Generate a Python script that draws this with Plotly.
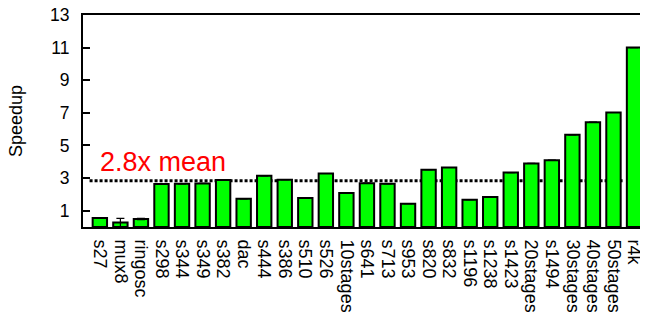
import plotly.graph_objects as go

categories = ["s27", "mux8", "ringosc", "s298", "s344", "s349", "s382", "dac",
              "s444", "s386", "s510", "s526", "10stages", "s641", "s713", "s953",
              "s820", "s832", "s1196", "s1238", "s1423", "20stages", "s1494",
              "30stages", "40stages", "50stages", "r4k"]
speedup = [0.55, 0.28, 0.49, 2.63, 2.65, 2.67, 2.88, 1.73,
           3.14, 2.90, 1.78, 3.28, 2.08, 2.69, 2.65, 1.43,
           3.51, 3.65, 1.67, 1.84, 3.34, 3.90, 4.10,
           5.65, 6.43, 7.02, 11.00]
errors = [0, 0.25, 0.04, 0, 0, 0, 0, 0,
          0, 0, 0, 0, 0, 0, 0, 0,
          0, 0, 0, 0, 0, 0, 0,
          0, 0, 0, 0]
mean_speedup = 2.84
mean_label = "2.8x mean"
y_title = "Speedup"
y_ticks = [1, 3, 5, 7, 9, 11, 13]

FONT = "Liberation Sans, Arial, Helvetica, sans-serif"

fig = go.Figure()
fig.add_trace(go.Bar(
    x=categories, y=speedup,
    marker=dict(color="#00ff00", line=dict(color="black", width=2)),
    error_y=dict(type="data", array=errors, symmetric=True, visible=True,
                 color="black", thickness=1.2, width=4),
    showlegend=False,
))

fig.add_shape(type="line", xref="x", yref="y",
              x0=-0.5, x1=len(categories) - 1.5, y0=mean_speedup, y1=mean_speedup,
              line=dict(color="black", width=3, dash="3px,2px"), layer="below")

fig.add_annotation(x=categories[0], y=mean_speedup, xref="x", yref="y",
                   text=mean_label, showarrow=False, xanchor="left", yanchor="bottom",
                   yshift=2, xshift=-2,
                   font=dict(family=FONT, size=27, color="#ff0000"))

fig.add_annotation(x=0, y=0.5, xref="paper", yref="paper", text=y_title,
                   textangle=-90, showarrow=False, xanchor="center", yanchor="middle",
                   xshift=-67, font=dict(family=FONT, size=18, color="black"))

fig.update_layout(
    width=640, height=312,
    margin=dict(l=75, r=0, t=7, b=93),
    plot_bgcolor="white", paper_bgcolor="white",
    bargap=0.3,
    font=dict(family=FONT, size=18, color="black"),
)
fig.update_xaxes(
    type="category", range=[-0.82, len(categories) - 0.32],
    tickmode="array", tickvals=categories, ticktext=categories,
    showline=True, linewidth=2, linecolor="black", mirror=True,
    ticks="", tickangle=90, tickfont=dict(size=18), showgrid=False,
    ticklabelstandoff=7, automargin=False,
)
fig.update_yaxes(
    range=[0, 13], tickvals=y_ticks, ticks="inside", ticklen=7, tickwidth=1.5,
    tickcolor="black", showline=True, linewidth=2, linecolor="black", mirror="ticks",
    showgrid=False, zeroline=False, tickfont=dict(size=17.5), automargin=False,
    ticklabelstandoff=8, ticklabeloverflow="allow",
)

fig.write_html("out.html")
